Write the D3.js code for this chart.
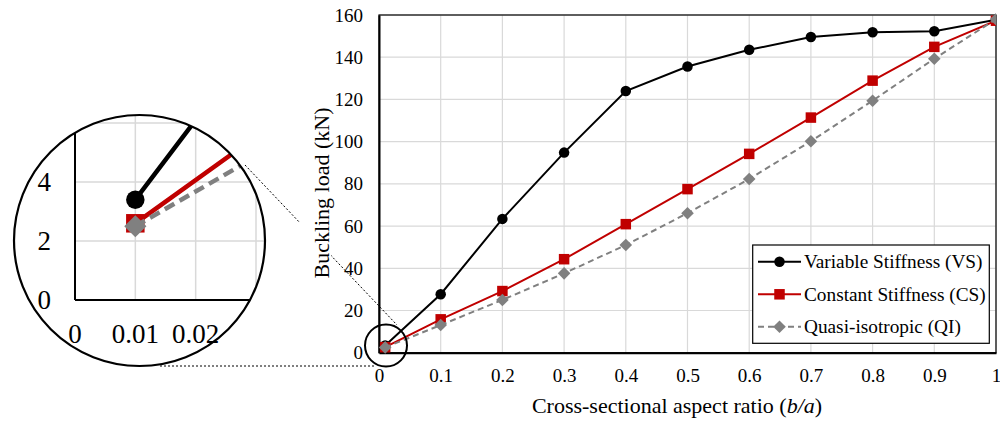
<!DOCTYPE html>
<html><head><meta charset="utf-8">
<script src="https://cdn.jsdelivr.net/npm/d3@7"></script>
<style>body{margin:0;background:#fff}</style>
</head><body><svg id="c" width="1000" height="425"></svg>
<script>
const xVals = [0.01,0.1,0.2,0.3,0.4,0.5,0.6,0.7,0.8,0.9,1.0];
const vsVals = [3.4,27.7,63.4,94.8,124.0,135.6,143.5,149.6,151.8,152.3,157.7];
const csVals = [2.6,15.8,29.2,44.3,60.9,77.5,94.2,111.4,128.9,144.9,157.3];
const qiVals = [2.5,13.1,25.0,37.6,51.0,66.1,82.3,100.2,119.4,139.3,158.0];
const seriesNames = ["Variable Stiffness (VS)","Constant Stiffness (CS)","Quasi-isotropic (QI)"];
const xTicks = [0,0.1,0.2,0.3,0.4,0.5,0.6,0.7,0.8,0.9,1];
const yTicks = [0,20,40,60,80,100,120,140,160];
const insetXTicks = [0,0.01,0.02];
const insetYTicks = [0,2,4];

const svg = d3.select("#c");
const series = [
  {name:seriesNames[0], vals:vsVals, color:"#000000", shape:"circle", dash:false},
  {name:seriesNames[1], vals:csVals, color:"#c00000", shape:"square", dash:false},
  {name:seriesNames[2], vals:qiVals, color:"#808080", shape:"diamond", dash:true}
];

// ---- main chart ----
const L=379,R=996,T=15,B=352.7;
const x = d3.scaleLinear().domain([0,1]).range([L,R]);
const y = d3.scaleLinear().domain([0,160]).range([B,T]);

const defs = svg.append("defs");
defs.append("clipPath").attr("id","mainclip").append("rect")
  .attr("x",L-30).attr("y",T-30).attr("width",R-L+30).attr("height",B-T+60);
const ICX=139.5, ICY=240.5, IR=125.5;
defs.append("clipPath").attr("id","insetclip").append("circle")
  .attr("cx",ICX).attr("cy",ICY).attr("r",IR);

// grid
const g = svg.append("g");
g.selectAll("line.vg").data(xTicks.slice(1)).join("line")
  .attr("x1",d=>x(d)).attr("x2",d=>x(d)).attr("y1",T).attr("y2",B)
  .attr("stroke","#d9d9d9").attr("stroke-width",1.2);
g.selectAll("line.hg").data(yTicks.slice(1)).join("line")
  .attr("x1",L).attr("x2",R).attr("y1",d=>y(d)).attr("y2",d=>y(d))
  .attr("stroke","#d9d9d9").attr("stroke-width",1.2);
g.append("rect").attr("x",L).attr("y",T).attr("width",R-L).attr("height",B-T)
  .attr("fill","none").attr("stroke","#000").attr("stroke-width",1.2);
// axes
const xAxis = d3.axisBottom(x).tickValues(xTicks).tickSize(0).tickFormat(d=>d===1?"1":String(d));
const yAxis = d3.axisLeft(y).tickValues(yTicks).tickSize(0);
const gx = svg.append("g").attr("transform",`translate(0,${B})`).call(xAxis).attr("font-size",19);
gx.select(".domain").attr("stroke","#000").attr("stroke-width",2);
gx.selectAll("text").attr("fill","#000").attr("dy",null).attr("y",29);
const gy = svg.append("g").attr("transform",`translate(${L},0)`).call(yAxis).attr("font-size",19);
gy.select(".domain").attr("stroke","#000").attr("stroke-width",2);
gy.selectAll("text").attr("fill","#000").attr("x",-16).attr("dy","0.32em");

// dotted connector lines
const conn = svg.append("g").attr("stroke","#000").attr("stroke-width",1).attr("stroke-dasharray","2,2");
conn.append("line").attr("x1",245).attr("y1",165).attr("x2",397).attr("y2",325);
conn.append("line").attr("x1",160).attr("y1",366).attr("x2",375).attr("y2",366);

// axis titles
svg.append("rect").attr("x",300).attr("y",100).attr("width",31).attr("height",188).attr("fill","#fff");
svg.append("text").attr("transform",`translate(329,193) rotate(-90)`)
  .attr("text-anchor","middle").attr("font-size",22).text("Buckling load (kN)");
const xt = svg.append("text").attr("x",677).attr("y",413).attr("text-anchor","middle").attr("font-size",22);
xt.append("tspan").text("Cross-sectional aspect ratio (");
xt.append("tspan").attr("font-style","italic").text("b/a");
xt.append("tspan").text(")");

function marker(sel, shape, color, size){
  if(shape==="circle") sel.append("circle").attr("r",size/2).attr("fill",color);
  else if(shape==="square") sel.append("rect").attr("x",-size/2).attr("y",-size/2).attr("width",size).attr("height",size).attr("fill",color);
  else { const h=size*0.6; sel.append("path").attr("d",`M0,${-h}L${h},0L0,${h}L${-h},0Z`).attr("fill",color); }
}

function drawSeries(parent, xs, ys, lw, msize, dashArr){
  series.forEach(s=>{
    const pts = xVals.map((xv,i)=>[xv,s.vals[i]]);
    const line = d3.line().x(d=>xs(d[0])).y(d=>ys(d[1]));
    parent.append("path").datum(pts).attr("d",line).attr("fill","none")
      .attr("stroke",s.color).attr("stroke-width",lw)
      .attr("stroke-dasharray",s.dash?dashArr:null);
    pts.forEach(p=>{
      const m = parent.append("g").attr("transform",`translate(${xs(p[0])},${ys(p[1])})`);
      marker(m, s.shape, s.color, msize);
    });
  });
}
const plotG = svg.append("g").attr("clip-path","url(#mainclip)");
drawSeries(plotG, x, y, 2, 10.5, "6,4");

svg.append("circle").attr("cx",386).attr("cy",345.5).attr("r",21)
  .attr("fill","none").attr("stroke","#000").attr("stroke-width",2);

// legend
const lg = svg.append("g");
lg.append("rect").attr("x",752.7).attr("y",245).attr("width",236.6).attr("height",98.3)
  .attr("fill","#fff").attr("stroke","#000").attr("stroke-width",1.2);
const rowsY=[261.7,294.3,326.7];
series.forEach((s,i)=>{
  lg.append("line").attr("x1",758).attr("x2",801).attr("y1",rowsY[i]).attr("y2",rowsY[i])
    .attr("stroke",s.color).attr("stroke-width",2).attr("stroke-dasharray",s.dash?"6,4":null);
  const m = lg.append("g").attr("transform",`translate(779.5,${rowsY[i]})`);
  marker(m, s.shape, s.color, 10.5);
  lg.append("text").attr("x",804).attr("y",rowsY[i]).attr("dy","0.33em").attr("font-size",19.3).text(s.name);
});

// ---- inset ----
const ix = d3.scaleLinear().domain([0,0.03]).range([75,256]);
const iy = d3.scaleLinear().domain([0,6]).range([300,123]);
const ins = svg.append("g").attr("clip-path","url(#insetclip)");
ins.append("rect").attr("x",0).attr("y",100).attr("width",280).attr("height",280).attr("fill","#fff");
[0.01,0.02,0.03].forEach(v=>ins.append("line").attr("x1",ix(v)).attr("x2",ix(v)).attr("y1",iy(0)).attr("y2",iy(7))
  .attr("stroke","#d9d9d9").attr("stroke-width",1.5));
[2,4,6].forEach(v=>ins.append("line").attr("x1",ix(0)).attr("x2",ix(0.04)).attr("y1",iy(v)).attr("y2",iy(v))
  .attr("stroke","#d9d9d9").attr("stroke-width",1.5));
ins.append("line").attr("x1",ix(0)).attr("x2",ix(0.04)).attr("y1",iy(0)).attr("y2",iy(0)).attr("stroke","#000").attr("stroke-width",2);
ins.append("line").attr("x1",ix(0)).attr("x2",ix(0)).attr("y1",iy(0)).attr("y2",iy(7)).attr("stroke","#000").attr("stroke-width",2);
drawSeries(ins, ix, iy, 4.5, 18.5, "11,6");
svg.append("circle").attr("cx",ICX).attr("cy",ICY).attr("r",IR)
  .attr("fill","none").attr("stroke","#000").attr("stroke-width",2.2);
insetYTicks.forEach(v=>svg.append("text").attr("x",51).attr("y",iy(v)).attr("dy","0.33em")
  .attr("text-anchor","end").attr("font-size",27).text(v));
insetXTicks.forEach(v=>svg.append("text").attr("x",ix(v)).attr("y",343)
  .attr("text-anchor","middle").attr("font-size",27).text(v===0?"0":d3.format(".2f")(v)));

svg.selectAll("text").attr("font-family","Liberation Serif");
svg.selectAll("g").attr("font-family",null);
</script></body></html>
